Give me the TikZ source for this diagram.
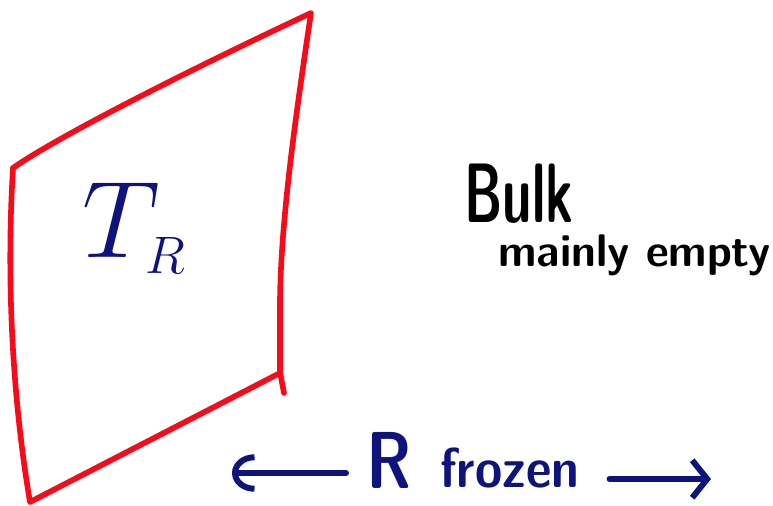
\documentclass[tikz,border=0pt]{standalone}
\usepackage{tikz}
\usepackage{graphicx}
\usetikzlibrary{arrows.meta,positioning}
\definecolor{sheetred}{RGB}{250,10,25}
\definecolor{penblue}{RGB}{15,20,125}

\begin{document}
\begin{tikzpicture}[
    x=0.02cm, y=-0.02cm,
    sheet/.style={draw=sheetred, line width=3.2pt, line join=round, line cap=round},
    pen/.style={penblue, line width=3.4pt, line cap=round},
    txt/.style={inner sep=0pt, anchor=base west, font=\sffamily\bfseries}
]
    \useasboundingbox (0,0) rectangle (773,506);

    % Brane sheet
    \draw[sheet] (13,168) .. controls (60,135) and (200,65) .. (311,13)
        .. controls (295,120) and (281,220) .. (280,300) -- (280,372) -- (284,393);
    \draw[sheet] (280,373) -- (30,502) .. controls (16,420) and (5,300) .. (13,168);

    % Labels
    \node[txt, penblue] (tr) at (82,257) {\fontsize{24}{26}\selectfont\scalebox{2.5}{$T_{\scriptscriptstyle R}$}};
    \node[txt] (bulk) at (464,223) {\fontsize{48}{50}\selectfont\scalebox{0.62}[1]{Bulk}};
    \node[txt] (empty) at (498,267) {\fontsize{26}{28}\selectfont\scalebox{0.97}[1]{mainly empty}};

    % Distance
    \node[txt, penblue] (rlbl) at (366,488) {\fontsize{46}{48}\selectfont\scalebox{0.8}[1]{R}};
    \node[txt, penblue] (frozen) at (440,487) {\fontsize{32}{34}\selectfont\scalebox{0.88}[1]{frozen}};
    \coordinate (leftend) at (232,473);
    \coordinate (rightend) at (711,479);

    % Arrows
    \draw[pen, -{Arc Barb[length=4.5mm,width=7.5mm]}] ([xshift=-0.4cm]leftend -| rlbl.west) -- (leftend);
    \draw[pen, -{Straight Barb[length=3mm,width=7.5mm]}] ([xshift=0.6cm]rightend -| frozen.east) -- (rightend);
\end{tikzpicture}
\end{document}
